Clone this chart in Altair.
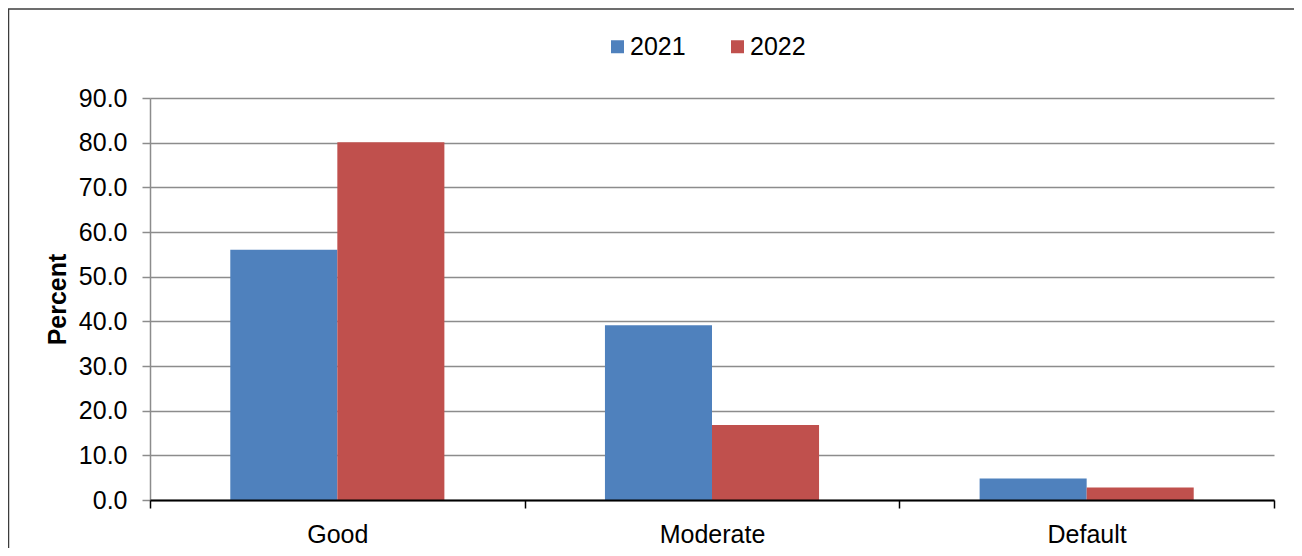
import altair as alt
import pandas as pd

categories = ["Good", "Moderate", "Default"]
years = ["2021", "2022"]
values_2021 = [56.0, 39.1, 4.8]
values_2022 = [80.1, 16.8, 2.8]
y_ticks = [0, 10, 20, 30, 40, 50, 60, 70, 80, 90]
colors = ["#4F81BD", "#C0504D"]

rows = []
for c, a, b in zip(categories, values_2021, values_2022):
    rows.append({"Category": c, "Year": years[0], "Percent": a})
    rows.append({"Category": c, "Year": years[1], "Percent": b})
df = pd.DataFrame(rows)

FONT = "Liberation Sans"
GRID = "#8c8c8c"

bars = alt.Chart(df).mark_bar().encode(
    x=alt.X(
        "Category:N",
        sort=categories,
        scale=alt.Scale(paddingInner=0, paddingOuter=0),
        axis=alt.Axis(
            title=None, labelAngle=0, tickBand="extent",
            domainColor="black", domainWidth=2,
            tickColor="black", tickWidth=1.5, tickSize=8,
            labelFontSize=25, labelPadding=14, labelColor="black",
            labelFont=FONT, zindex=2,
        ),
    ),
    xOffset=alt.XOffset(
        "Year:N", sort=years,
        scale=alt.Scale(paddingInner=0, paddingOuter=0.75),
    ),
    y=alt.Y(
        "Percent:Q",
        scale=alt.Scale(domain=[0, 90], nice=False),
        axis=alt.Axis(
            values=y_ticks, format=".1f", title="Percent",
            domainColor=GRID, domainWidth=1.5,
            tickColor=GRID, tickWidth=1.5, tickSize=8,
            labelFontSize=25, labelPadding=15, labelColor="black", labelFont=FONT,
            grid=True, gridColor=GRID, gridWidth=1.5,
            titleFontSize=25, titleFontWeight="bold", titleColor="black",
            titleFont=FONT, titlePadding=8,
        ),
    ),
    color=alt.Color(
        "Year:N",
        scale=alt.Scale(domain=years, range=colors),
        legend=alt.Legend(
            title=None, orient="none", legendX=455, legendY=-64,
            direction="horizontal", symbolType="square", symbolSize=169,
            symbolStrokeWidth=0, labelFontSize=25, labelFont=FONT,
            labelColor="black", columnPadding=39, labelOffset=0, padding=0,
        ),
    ),
)

frame_data = pd.DataFrame({"k": [0]})
frame_top = alt.Chart(frame_data).mark_rule(color="#3c3c3c", strokeWidth=1.5).encode(
    x=alt.value(-142), x2=alt.value(1144), y=alt.value(-89)
)
frame_left = alt.Chart(frame_data).mark_rule(color="#3c3c3c", strokeWidth=1.5).encode(
    x=alt.value(-141.5), y=alt.value(-89), y2=alt.value(460)
)

chart = alt.layer(frame_top, frame_left, bars).properties(
    width=1124,
    height=402,
    autosize=alt.AutoSizeParams(type="none"),
    padding={"left": 142, "top": 90, "right": 20, "bottom": 48},
    background="white",
).configure(font=FONT).configure_view(strokeWidth=0)

chart.save("out.html", embed_options={"renderer": "svg", "actions": False})
